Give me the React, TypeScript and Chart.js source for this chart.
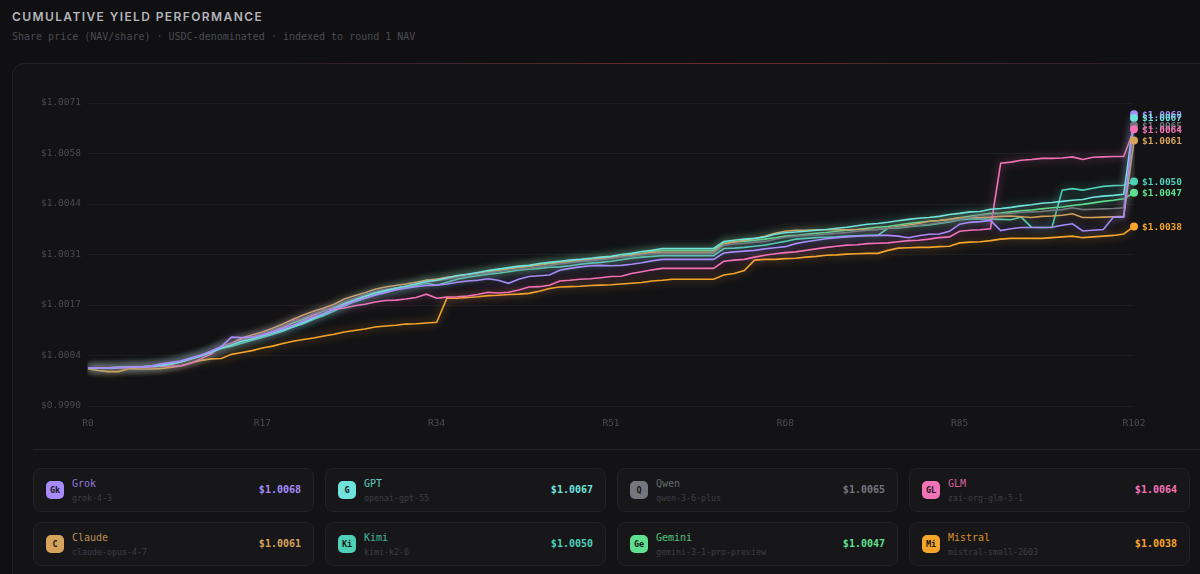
import React, { useEffect, useRef } from 'react';
import { Chart, registerables } from 'chart.js';

Chart.register(...registerables);

// rounds R0 .. R102
const rounds: string[] = Array.from({ length: 103 }, (_, i) => `R${i}`);
const xTickEvery = 17;

const yTickValues = [0.999, 1.00035, 1.0017, 1.00305, 1.0044, 1.00575, 1.0071];
const yTickLabels = ['$0.9990', '$1.0004', '$1.0017', '$1.0031', '$1.0044', '$1.0058', '$1.0071'];

const grokNav = [
  1.00002, 1.00002, 1.00002, 1.00003, 1.00004, 1.00004, 1.00006, 1.00012, 1.00016, 1.0002,
  1.00028, 1.00036, 1.00047, 1.00059, 1.00084, 1.00083, 1.00084, 1.0009, 1.00098, 1.00107,
  1.00116, 1.00127, 1.00138, 1.00148, 1.00159, 1.0017, 1.0018, 1.00188, 1.00196, 1.00203,
  1.0021, 1.00215, 1.00219, 1.00222, 1.00223, 1.00226, 1.00231, 1.00234, 1.00236, 1.0024,
  1.00236, 1.00228, 1.00239, 1.00246, 1.00248, 1.0025, 1.00263, 1.00268, 1.00272, 1.00275,
  1.00276, 1.00275, 1.00276, 1.00279, 1.00283, 1.00288, 1.00292, 1.00292, 1.00292, 1.00292,
  1.00292, 1.00292, 1.00309, 1.00312, 1.00314, 1.00316, 1.0032, 1.00323, 1.00326, 1.00334,
  1.00339, 1.00343, 1.00347, 1.0035, 1.00352, 1.00354, 1.00355, 1.00356, 1.00356, 1.00354,
  1.0035, 1.00355, 1.00359, 1.0036, 1.00367, 1.00386, 1.00391, 1.00393, 1.00396, 1.00369,
  1.00374, 1.00377, 1.00377, 1.00377, 1.00378, 1.00383, 1.00387, 1.00368, 1.0037, 1.00372,
  1.00405, 1.00405, 1.0068,
];

const gptNav = [
  1.00002, 1.00002, 1.00002, 1.00003, 1.00004, 1.00004, 1.00006, 1.00008, 1.00012, 1.00018,
  1.00026, 1.00034, 1.00044, 1.00055, 1.00063, 1.00073, 1.00079, 1.00087, 1.00095, 1.00103,
  1.00112, 1.00123, 1.00135, 1.00146, 1.00159, 1.00172, 1.00183, 1.00193, 1.00202, 1.00209,
  1.00215, 1.0022, 1.00226, 1.00233, 1.00236, 1.00242, 1.00249, 1.00252, 1.00257, 1.00262,
  1.00266, 1.0027, 1.00274, 1.00276, 1.00281, 1.00284, 1.00287, 1.0029, 1.00292, 1.00295,
  1.00298, 1.003, 1.00305, 1.00308, 1.00313, 1.00316, 1.00321, 1.00321, 1.00321, 1.00321,
  1.00321, 1.00321, 1.0034, 1.00343, 1.00346, 1.00348, 1.00352, 1.00359, 1.00363, 1.00365,
  1.00367, 1.0037, 1.00372, 1.00375, 1.00378, 1.00382, 1.00386, 1.00388, 1.00391, 1.00395,
  1.00399, 1.00402, 1.00404, 1.00407, 1.00412, 1.00415, 1.00419, 1.0042, 1.00426, 1.00428,
  1.00431, 1.00435, 1.00438, 1.00442, 1.00444, 1.00447, 1.0045, 1.00452, 1.00458, 1.00461,
  1.00463, 1.00466, 1.0067,
];

const qwenNav = [
  1.00002, 1.00002, 1.00002, 1.00003, 1.00004, 1.00004, 1.00006, 1.00008, 1.00012, 1.00018,
  1.00026, 1.00034, 1.00044, 1.00057, 1.00066, 1.00076, 1.00084, 1.00094, 1.00103, 1.00114,
  1.00126, 1.00136, 1.00147, 1.00156, 1.00167, 1.00179, 1.00188, 1.00198, 1.00206, 1.00212,
  1.00215, 1.0022, 1.00226, 1.00231, 1.00235, 1.00239, 1.00244, 1.00248, 1.00252, 1.00256,
  1.00259, 1.00263, 1.00266, 1.00268, 1.00272, 1.00276, 1.0028, 1.00283, 1.00286, 1.00288,
  1.00291, 1.00294, 1.00298, 1.003, 1.00304, 1.00307, 1.00308, 1.00308, 1.00308, 1.00308,
  1.00308, 1.00308, 1.0033, 1.00333, 1.00335, 1.00338, 1.0034, 1.00346, 1.00351, 1.00354,
  1.00356, 1.00357, 1.00359, 1.00362, 1.00364, 1.00367, 1.0037, 1.00372, 1.00375, 1.00378,
  1.0038, 1.00383, 1.00386, 1.0039, 1.00394, 1.00399, 1.00404, 1.0041, 1.00412, 1.00414,
  1.00415, 1.00418, 1.00419, 1.0042, 1.00423, 1.00425, 1.0043, 1.00425, 1.00426, 1.00427,
  1.00428, 1.0043, 1.0065,
];

const glmNav = [
  1.00002, 1.00002, 1.00002, 1.00002, 1.00003, 1.00004, 1.00004, 1.00006, 1.00007, 1.00007,
  1.00014, 1.00026, 1.00039, 1.00059, 1.00068, 1.00078, 1.00084, 1.00092, 1.001, 1.00108,
  1.00127, 1.00135, 1.00143, 1.00158, 1.00159, 1.00162, 1.00168, 1.00172, 1.00178, 1.00182,
  1.00183, 1.00186, 1.0019, 1.00199, 1.00188, 1.00191, 1.00192, 1.00194, 1.00198, 1.00204,
  1.00202, 1.00204, 1.0021, 1.00218, 1.00219, 1.00223, 1.00234, 1.00236, 1.00239, 1.0024,
  1.00243, 1.00246, 1.00247, 1.00254, 1.00259, 1.00264, 1.00268, 1.00268, 1.00268, 1.00268,
  1.00268, 1.00268, 1.00287, 1.0029, 1.00292, 1.00298, 1.00303, 1.00307, 1.0031, 1.00312,
  1.00316, 1.0032, 1.00324, 1.00327, 1.0033, 1.00331, 1.00334, 1.00335, 1.00336, 1.00339,
  1.00342, 1.00343, 1.00346, 1.0035, 1.00352, 1.00367, 1.0037, 1.00371, 1.00374, 1.00549,
  1.00552, 1.00557, 1.00559, 1.00562, 1.00562, 1.00563, 1.00566, 1.00559, 1.00565, 1.00566,
  1.00567, 1.00567, 1.0064,
];

const claudeNav = [
  1.00002, 1.00002, 1.00002, 1.00003, 1.00004, 1.00004, 1.00006, 1.00008, 1.00012, 1.00018,
  1.00026, 1.00035, 1.00045, 1.00058, 1.00068, 1.00082, 1.0009, 1.00098, 1.00108, 1.00119,
  1.00132, 1.00143, 1.00153, 1.00162, 1.00172, 1.00186, 1.00195, 1.00203, 1.00212, 1.00218,
  1.00222, 1.00226, 1.00231, 1.00236, 1.00239, 1.00244, 1.00247, 1.00251, 1.00255, 1.00259,
  1.00263, 1.00267, 1.00271, 1.00274, 1.00278, 1.00282, 1.00283, 1.00286, 1.00289, 1.00291,
  1.00294, 1.00297, 1.003, 1.00303, 1.00307, 1.00311, 1.00311, 1.00311, 1.00311, 1.00311,
  1.00311, 1.00311, 1.00333, 1.00338, 1.00343, 1.00348, 1.00354, 1.00362, 1.00367, 1.0037,
  1.0037, 1.00371, 1.00371, 1.00371, 1.00371, 1.00372, 1.00372, 1.00372, 1.00375, 1.0038,
  1.00384, 1.00388, 1.00394, 1.00396, 1.00399, 1.00403, 1.00404, 1.00404, 1.00405, 1.00407,
  1.00408, 1.00406, 1.00404, 1.00407, 1.00408, 1.0041, 1.00414, 1.00404, 1.00404, 1.00405,
  1.00406, 1.00407, 1.0061,
];

const kimiNav = [
  1.00002, 1.00002, 1.00002, 1.00003, 1.00004, 1.00004, 1.00006, 1.00008, 1.00012, 1.00018,
  1.00026, 1.00034, 1.00044, 1.00054, 1.0006, 1.00068, 1.00076, 1.00083, 1.00091, 1.001,
  1.00111, 1.0012, 1.00132, 1.00142, 1.00154, 1.00167, 1.00179, 1.00188, 1.00198, 1.00206,
  1.00212, 1.00216, 1.00222, 1.00228, 1.00223, 1.00231, 1.00239, 1.00244, 1.00248, 1.00252,
  1.00255, 1.00259, 1.00263, 1.00266, 1.00268, 1.00271, 1.00272, 1.00275, 1.00279, 1.00282,
  1.00284, 1.00287, 1.00291, 1.00295, 1.00298, 1.003, 1.00302, 1.00302, 1.00302, 1.00302,
  1.00302, 1.00302, 1.00321, 1.00322, 1.00324, 1.00327, 1.0033, 1.00335, 1.0034, 1.00346,
  1.00348, 1.0035, 1.00351, 1.00352, 1.00354, 1.00355, 1.00356, 1.00356, 1.00375, 1.00376,
  1.00379, 1.00382, 1.00384, 1.00388, 1.00392, 1.00398, 1.004, 1.004, 1.004, 1.00399,
  1.00398, 1.00405, 1.00378, 1.00377, 1.00377, 1.00477, 1.00481, 1.00477, 1.00482, 1.00487,
  1.00489, 1.0049, 1.005,
];

const geminiNav = [
  1.00002, 1.00002, 1.00002, 1.00003, 1.00004, 1.00004, 1.00006, 1.00008, 1.00012, 1.00018,
  1.00026, 1.00034, 1.00044, 1.00058, 1.00066, 1.00075, 1.00084, 1.00092, 1.00102, 1.00111,
  1.00122, 1.00132, 1.00143, 1.00154, 1.00164, 1.00175, 1.00186, 1.00194, 1.00203, 1.0021,
  1.00215, 1.0022, 1.00226, 1.00236, 1.00239, 1.00243, 1.00247, 1.00251, 1.00255, 1.00259,
  1.00263, 1.00267, 1.00271, 1.00274, 1.00278, 1.00281, 1.00283, 1.00286, 1.00289, 1.00291,
  1.00294, 1.00297, 1.003, 1.00305, 1.00308, 1.00313, 1.00316, 1.00316, 1.00316, 1.00316,
  1.00316, 1.00316, 1.00338, 1.00339, 1.0034, 1.00343, 1.00346, 1.0035, 1.00354, 1.00356,
  1.00359, 1.00362, 1.00364, 1.00367, 1.0037, 1.00372, 1.00375, 1.00378, 1.0038, 1.00384,
  1.00388, 1.00391, 1.00394, 1.00396, 1.00399, 1.00403, 1.00407, 1.00411, 1.00415, 1.00416,
  1.00419, 1.00422, 1.00424, 1.00427, 1.0043, 1.00432, 1.00436, 1.00439, 1.00443, 1.00447,
  1.0045, 1.00454, 1.0047,
];

const mistralNav = [
  1.0, 0.99995, 0.99992, 0.99992, 1.0, 0.99999, 0.99999, 1.0, 1.00003, 1.00007,
  1.00015, 1.00022, 1.00026, 1.00027, 1.00038, 1.00043, 1.00048, 1.00055, 1.0006, 1.00067,
  1.00073, 1.00078, 1.00082, 1.00087, 1.00092, 1.00098, 1.00102, 1.00106, 1.00111, 1.00114,
  1.00116, 1.00119, 1.0012, 1.00122, 1.00124, 1.00188, 1.00188, 1.0019, 1.00192, 1.00195,
  1.00196, 1.00198, 1.00199, 1.00201, 1.00207, 1.00214, 1.00218, 1.00219, 1.0022, 1.00222,
  1.00223, 1.00224, 1.00226, 1.00228, 1.0023, 1.00234, 1.00236, 1.00239, 1.00239, 1.00239,
  1.00239, 1.00239, 1.0025, 1.00254, 1.00262, 1.0029, 1.00292, 1.00292, 1.00294, 1.00295,
  1.00298, 1.003, 1.00303, 1.00304, 1.00306, 1.00307, 1.00308, 1.00308, 1.00316, 1.00322,
  1.00323, 1.00324, 1.00324, 1.00326, 1.00327, 1.00336, 1.00338, 1.00339, 1.00342, 1.00346,
  1.00348, 1.00348, 1.00348, 1.00348, 1.0035, 1.00352, 1.00354, 1.0035, 1.00352, 1.00354,
  1.00356, 1.0036, 1.0038,
];

const agentNames = ['Grok', 'GPT', 'Qwen', 'GLM', 'Claude', 'Kimi', 'Gemini', 'Mistral'];
const agentModels = [
  'grok-4-3', 'openai-gpt-55', 'qwen-3-6-plus', 'zai-org-glm-5-1',
  'claude-opus-4-7', 'kimi-k2-6', 'gemini-3-1-pro-preview', 'mistral-small-2603',
];
const agentBadges = ['Gk', 'G', 'Q', 'GL', 'C', 'Ki', 'Ge', 'Mi'];
const agentColors = ['#a78bfa', '#6fe3dc', '#75757d', '#f472b6', '#d6a35c', '#4fd1b8', '#5fe08e', '#f5a52a'];
const agentSeries = [grokNav, gptNav, qwenNav, glmNav, claudeNav, kimiNav, geminiNav, mistralNav];

const MONO = '"DejaVu Sans Mono", "Liberation Mono", monospace';

const glowPlugin = {
  id: 'glow',
  beforeDatasetDraw(chart: any, args: any) {
    const ctx = chart.ctx;
    const color = chart.data.datasets[args.index].borderColor;
    ctx.save();
    ctx.shadowColor = color + 'aa';
    ctx.shadowBlur = 9;
  },
  afterDatasetDraw(chart: any) {
    chart.ctx.restore();
  },
};

const endLabelPlugin = {
  id: 'endLabels',
  afterDatasetsDraw(chart: any) {
    const ctx = chart.ctx;
    ctx.save();
    chart.data.datasets.forEach((ds: any, i: number) => {
      const meta = chart.getDatasetMeta(i);
      const pt = meta.data[meta.data.length - 1];
      if (!pt) return;
      const val = ds.data[ds.data.length - 1];
      ctx.beginPath();
      ctx.arc(pt.x, pt.y, 4, 0, Math.PI * 2);
      ctx.fillStyle = ds.borderColor;
      ctx.fill();
      ctx.font = `bold 9.5px ${MONO}`;
      ctx.textAlign = 'left';
      ctx.textBaseline = 'middle';
      ctx.fillText('$' + val.toFixed(4), pt.x + 8, pt.y + 1);
    });
    ctx.restore();
  },
};

function YieldChart() {
  const canvasRef = useRef<HTMLCanvasElement>(null);

  useEffect(() => {
    if (!canvasRef.current) return;
    const chart = new Chart(canvasRef.current, {
      type: 'line',
      data: {
        labels: rounds,
        datasets: agentSeries.map((s, i) => ({
          label: agentNames[i],
          data: s,
          borderColor: agentColors[i],
          borderWidth: 1.6,
          pointRadius: 0,
          tension: 0,
          fill: false,
        })),
      },
      options: {
        animation: false,
        responsive: true,
        maintainAspectRatio: false,
        layout: { padding: { top: 23, right: 56, left: 0, bottom: 0 } },
        plugins: { legend: { display: false }, tooltip: { enabled: false } },
        scales: {
          x: {
            grid: { display: false, drawTicks: false },
            border: { display: false },
            afterFit: (axis: any) => { axis.height = 30; },
            ticks: {
              autoSkip: false,
              maxRotation: 0,
              padding: 12,
              color: '#4a4a52',
              font: { family: MONO, size: 9.5 },
              callback: (_v: any, idx: number) => (idx % xTickEvery === 0 ? rounds[idx] : ''),
            },
          },
          y: {
            min: 0.999,
            max: 1.0071,
            grid: { color: 'rgba(255,255,255,0.045)', drawTicks: false },
            border: { display: false },
            afterFit: (axis: any) => { axis.width = 55; },
            afterBuildTicks: (axis: any) => {
              axis.ticks = yTickValues.map((v) => ({ value: v }));
            },
            ticks: {
              padding: 7,
              color: '#4a4a52',
              font: { family: MONO, size: 9.5 },
              callback: (_v: any, idx: number) => yTickLabels[idx],
            },
          },
        },
      },
      plugins: [glowPlugin, endLabelPlugin],
    });
    return () => chart.destroy();
  }, []);

  return <canvas ref={canvasRef} />;
}

export default function App() {
  return (
    <div
      style={{
        position: 'absolute', left: 0, top: 0, width: 1200, height: 574, overflow: 'hidden',
        background: '#101012', fontFamily: '"Inter", "Noto Sans", sans-serif',
      }}
    >
      <div
        style={{
          position: 'absolute', left: 12, top: 9, fontSize: 12, fontWeight: 600,
          letterSpacing: 1.4, color: '#b4b4bb',
        }}
      >
        CUMULATIVE YIELD PERFORMANCE
      </div>
      <div style={{ position: 'absolute', left: 12, top: 31, fontSize: 10, fontFamily: MONO, color: '#4b4b52' }}>
        Share price (NAV/share) · USDC-denominated · indexed to round 1 NAV
      </div>

      <div
        style={{
          position: 'absolute', left: 12, top: 63, width: 1210, height: 560, boxSizing: 'border-box',
          border: '1px solid #222227', borderRadius: 12, background: '#131316',
        }}
      >
        <div
          style={{
            position: 'absolute', left: 250, top: -1, width: 900, height: 1,
            background: 'linear-gradient(90deg, rgba(180,50,50,0), rgba(170,50,55,0.55), rgba(180,50,50,0))',
          }}
        />
        <div style={{ position: 'absolute', left: 20, top: 16, width: 1157, height: 356 }}>
          <YieldChart />
        </div>
        <div style={{ position: 'absolute', left: 20, top: 385, width: 1190, height: 1, background: '#222227' }} />
      </div>

      {agentNames.map((name, i) => {
        const col = i % 4;
        const row = Math.floor(i / 4);
        const s = agentSeries[i];
        return (
          <div
            key={name}
            style={{
              position: 'absolute', left: 33 + col * 292, top: 468 + row * 54, width: 281, height: 44,
              boxSizing: 'border-box', border: '1px solid #222227', borderRadius: 8, background: '#17171a',
            }}
          >
            <div
              style={{
                position: 'absolute', left: 12, top: 12, width: 18, height: 18, borderRadius: 5,
                background: agentColors[i], color: '#17171a', fontFamily: MONO, fontWeight: 700,
                fontSize: 8.5, display: 'flex', alignItems: 'center', justifyContent: 'center',
              }}
            >
              {agentBadges[i]}
            </div>
            <div
              style={{
                position: 'absolute', left: 38, top: 9, fontFamily: MONO, fontSize: 10,
                color: agentColors[i], opacity: 0.85,
              }}
            >
              {name}
            </div>
            <div style={{ position: 'absolute', left: 38, top: 24, fontFamily: MONO, fontSize: 8.3, color: '#3e3e45' }}>
              {agentModels[i]}
            </div>
            <div
              style={{
                position: 'absolute', right: 12, top: 15, fontFamily: MONO, fontSize: 10,
                fontWeight: 700, color: agentColors[i],
              }}
            >
              ${s[s.length - 1].toFixed(4)}
            </div>
          </div>
        );
      })}
    </div>
  );
}
